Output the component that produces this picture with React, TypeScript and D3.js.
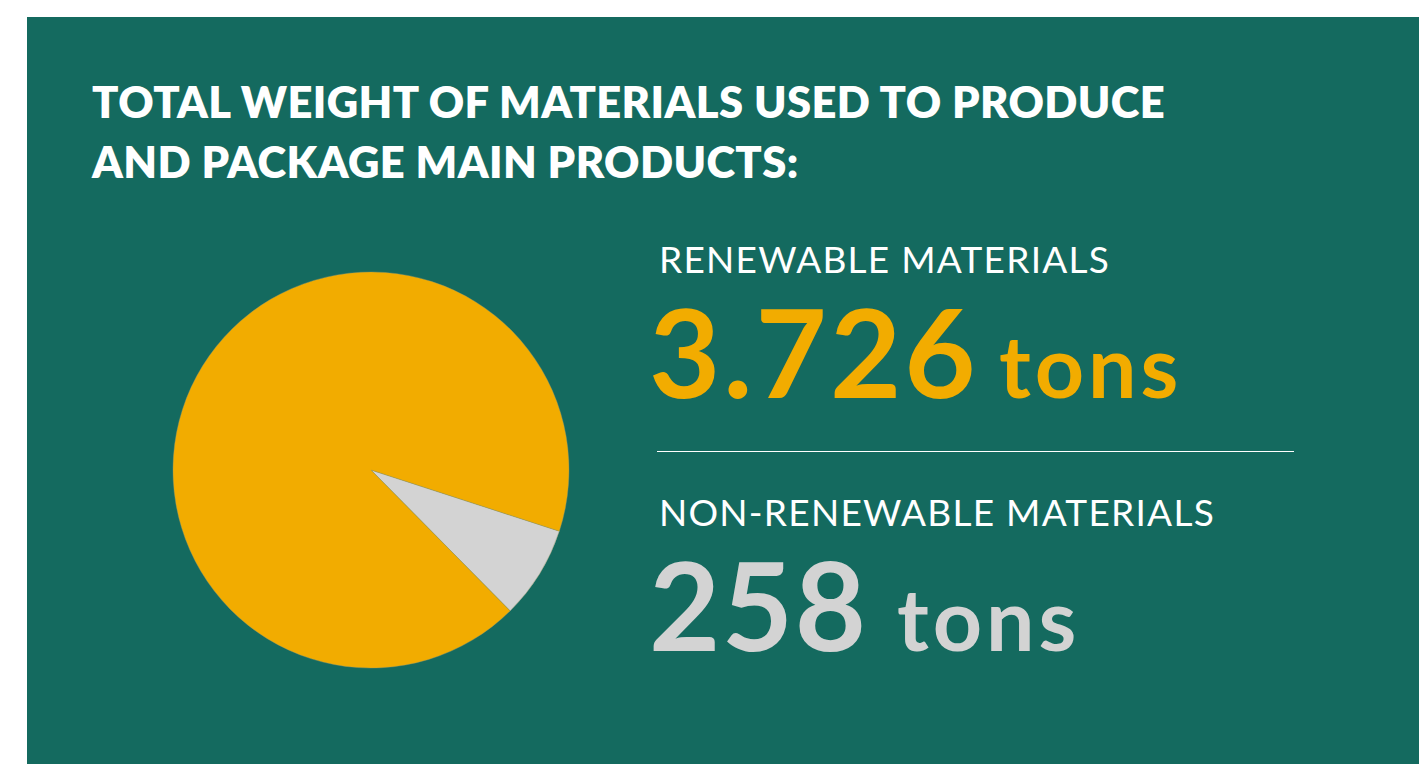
import React from "react";
import * as d3 from "d3";

const categories = ["Non-renewable materials", "Renewable materials"];
const tonValues = [258, 3726];
const valueLabels = ["258", "3.726"];
const unitLabel = "tons";
const titleLines = ["TOTAL WEIGHT OF MATERIALS USED TO PRODUCE", "AND PACKAGE MAIN PRODUCTS:"];
const headerLabels = ["NON-RENEWABLE MATERIALS", "RENEWABLE MATERIALS"];
// slice shares as drawn in the pie (percent)
const pieShares = [7.6, 92.4];
const colors = ["#D3D3D3", "#F2AC00"];

const W = 1419;
const H = 764;
const BG = "#146A5F";
const FONT = "Lato, 'Open Sans', sans-serif";

export default function App() {
  const cx = 371;
  const cy = 470;
  const r = 198;
  const pie = d3
    .pie<number>()
    .sort(null)
    .value((d) => d)
    .startAngle((108 * Math.PI) / 180)
    .endAngle((108 * Math.PI) / 180 + 2 * Math.PI);
  const arcs = pie(pieShares);
  const arc = d3.arc<d3.PieArcDatum<number>>().innerRadius(0).outerRadius(r);

  const blocks = [
    { header: headerLabels[1], value: valueLabels[1], color: colors[1], hy: 273, vy: 398, unitX: 999, hs: 1.25, vs: 3 },
    { header: headerLabels[0], value: valueLabels[0], color: colors[0], hy: 526, vy: 651, unitX: 897, hs: 1.25, vs: 1.5 },
  ];

  return (
    <svg
      width={W}
      height={H}
      style={{ position: "absolute", left: 0, top: 0, display: "block" }}
      fontFamily={FONT}
    >
      <rect x={0} y={0} width={W} height={H} fill="#ffffff" />
      <rect x={27} y={17} width={W - 27} height={H - 17} fill={BG} />
      {titleLines.map((t, i) => (
        <text key={i} x={92} y={118 + i * 60} fill="#ffffff" fontSize={43.5} fontWeight={800} letterSpacing={0.4}>
          {t}
        </text>
      ))}
      <g transform={`translate(${cx},${cy})`}>
        {arcs.map((a, i) => (
          <path key={categories[i]} d={arc(a) || ""} fill={colors[i]} stroke="#9a9a6a" strokeWidth={0.4} />
        ))}
      </g>
      {blocks.map((b, i) => (
        <g key={i}>
          <text x={659} y={b.hy} fill="#ffffff" fontSize={37} fontWeight={400} letterSpacing={b.hs}>
            {b.header}
          </text>
          <text x={649} y={b.vy} fill={b.color} fontSize={123} fontWeight={700} letterSpacing={b.vs}>
            {b.value}
          </text>
          <text x={b.unitX} y={b.vy} fill={b.color} fontSize={86} fontWeight={700} letterSpacing={4}>
            {unitLabel}
          </text>
        </g>
      ))}
      <line x1={657} x2={1294} y1={451.5} y2={451.5} stroke="#ffffff" strokeWidth={1.2} />
    </svg>
  );
}
